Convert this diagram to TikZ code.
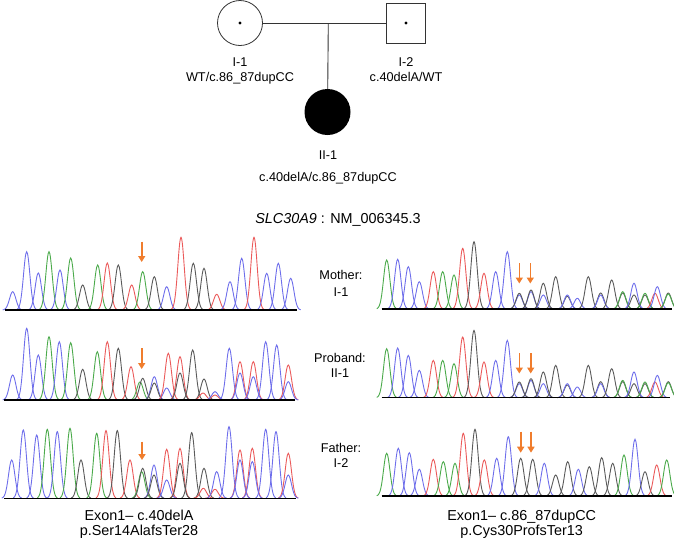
\documentclass[tikz,border=0pt]{standalone}
\usepackage{fontspec}
\setmainfont{Liberation Sans}
\usetikzlibrary{arrows.meta}
\definecolor{cB}{RGB}{110,110,235}
\definecolor{cG}{RGB}{75,170,75}
\definecolor{cR}{RGB}{235,90,90}
\definecolor{cK}{RGB}{90,90,90}
\definecolor{cO}{RGB}{240,125,45}
\newcommand\pk[4]{\draw[pktrace,#4] plot[domain=#1-10:#1+10,samples=25,smooth] (\x,{#2-#3*exp(-(((\x-#1)/4.5)^2))});}
\newcommand\panel[2]{\foreach \pc/\ph/\pcol in #2 {\pk{\pc}{#1}{\ph}{\pcol}}}
\newcommand\rightpeaks{386.7/49/cG, 397.7/49.7/cB, 408.3/42.3/cB, 419.3/27.3/cB, 433.3/37.3/cR, 442.7/37.3/cG, 454/34/cG, 462.7/60.7/cR, 474/67.3/cK, 484/35.7/cR, 495.7/37.3/cB, 507.3/57.3/cB, 519.3/14/cB, 519.3/15.7/cK, 531/17.3/cB, 531/19/cK, 543.3/14/cB, 543.3/25.7/cK, 555.7/32.3/cK, 567.3/12.7/cK, 567.3/14/cB, 577.3/10.7/cB, 588.3/32.3/cK, 600.7/16/cK, 600.7/14/cB, 611.7/29/cK, 622.7/16/cK, 622.7/17.3/cG, 634/14/cK, 634/25.7/cB, 645/14/cK, 645/15.7/cG, 655/15.7/cR, 657.3/22.3/cB, 668.3/16/cK, 668.3/15/cG}
\begin{document}
\begin{tikzpicture}[x=1pt,y=-1pt,
  pktrace/.style={line width=0.9pt},
  base/.style={line width=1.4pt,black},
  mut/.style={cO,line width=1.6pt,-{Triangle[width=7pt,length=6pt]}},
  lab/.style={font=\fontsize{12.7}{15}\selectfont,inner sep=0,anchor=base},
  big/.style={font=\fontsize{14.4}{17}\selectfont,inner sep=0,anchor=base},
  pline/.style={line width=0.9pt,black!80}]
\useasboundingbox (0,0) rectangle (674,539);
% pedigree
\node[circle,draw=black!80,line width=0.8pt,minimum size=45pt,inner sep=0] (I1) at (240,23) {};
\node[rectangle,draw=black!80,line width=0.8pt,minimum width=39pt,minimum height=40pt,inner sep=0] (I2) at (406,23) {};
\node[circle,fill=black,minimum size=46pt,inner sep=0] (II1) at (327.5,112) {};
\fill (I1.center) circle (1.7);
\fill (I2.center) circle (1.7);
\draw[pline] (I1) -- (I2);
\coordinate (m) at (328.3,23);
\draw[pline] (m) -- (II1);
\node[lab] (tI1) at (240,66.3) {I-1};
\node[lab] (gI1) at (240,81.3) {WT/c.86\_87dupCC};
\node[lab] (tI2) at (406,66.3) {I-2};
\node[lab] (gI2) at (406,81.5) {c.40delA/WT};
\node[lab] (tII1) at (328,159) {II-1};
\node[lab] (gII1) at (328,181.3) {c.40delA/c.86\_87dupCC};
\node[big] (title) at (338,223) {\textit{SLC30A9} : NM\_006345.3};
% row labels
\node[lab] (m1) at (341,279.6) {Mother:};
\node[lab] (m2) at (341,296.3) {I-1};
\node[lab] (p1) at (340,362.9) {Proband:};
\node[lab] (p2) at (340,377.9) {II-1};
\node[lab] (f1) at (341,452.9) {Father:};
\node[lab] (f2) at (341,467.9) {I-2};
% left chromatograms
\panel{310}{{12.7/18.3/cB, 26.7/58.3/cB, 38.3/37/cB, 49/58.3/cG, 60/40/cB, 70.7/52/cG, 82.7/25/cK, 97.7/45/cG, 107.3/47/cR, 118.3/45/cK, 131.7/25/cR, 142.7/38.3/cG, 154.3/33.3/cK, 166.7/23.3/cB, 181/72.7/cR, 193.3/46.7/cK, 204/41.7/cK, 216.7/15.7/cR, 230/28.3/cB, 241.7/51.7/cB, 254/72.7/cR, 266.7/36.7/cB, 278.3/46.7/cB, 290.7/31.7/cB}}
\draw[base] (5,310) -- (297,310);
\panel{400}{{12.7/25/cB, 26.7/71.7/cB, 38.3/45/cB, 49/63.3/cG, 59.3/58.3/cB, 70.7/57.3/cG, 82.7/30.7/cK, 97.3/48.3/cG, 107.3/58.3/cR, 118.3/51.7/cK, 131/33.3/cR, 140/18/cG, 142.7/21.7/cK, 154.3/23.3/cB, 154.3/17/cK, 166.7/12/cB, 168.3/46.7/cR, 180/43.3/cR, 180/27/cK, 192.7/50/cK, 204/21/cK, 203/7/cR, 215/5/cR, 215/8.3/cB, 229.3/51.7/cB, 240/38.3/cR, 240/27/cB, 253.3/38.3/cR, 253.3/23.3/cB, 265.7/58.3/cB, 276.7/55/cB, 288.3/35/cR, 288.3/18.3/cB}}
\draw[base] (4,400) -- (295,400);
\panel{498.3}{{11.7/38.3/cB, 23.3/68.3/cB, 36.7/63.3/cB, 47.3/69/cG, 57.3/66.7/cB, 70/70/cG, 81/38.3/cK, 96.7/65/cG, 106/67.7/cR, 117.3/67.7/cK, 130/38.3/cR, 141.7/26.7/cG, 142.7/30/cK, 154/33.3/cB, 154/23.3/cK, 166.7/49/cR, 166.7/18.3/cB, 180/50/cR, 180/35/cK, 191.7/65.7/cK, 204/30/cK, 203.3/10/cR, 215/9/cR, 216.7/26.7/cB, 229/71.7/cB, 240/48.3/cR, 240/38.3/cB, 252.3/50/cR, 252.3/36.7/cB, 265.7/69/cB, 276/66.7/cB, 288.3/45/cR, 288.3/23.3/cB}}
\draw[base] (4,498.3) -- (296,498.3);
% right chromatograms
\panel{309}{\rightpeaks}
\draw[base] (381.7,309) -- (671.7,309);
\panel{397.7}{\rightpeaks}
\draw[base] (381.7,397.7) -- (670,397.7);
\panel{496}{{386.7/42.7/cG, 398.3/47.7/cB, 409.3/43.3/cB, 419.3/26.7/cB, 433.3/36.7/cR, 443.3/34.3/cG, 455/32.7/cG, 463.3/62.7/cR, 475/66.7/cK, 484.3/36/cR, 496.7/37.7/cB, 508.3/59.3/cB, 520.7/37.7/cK, 532.7/36.7/cK, 544.3/32.7/cB, 555.7/21/cK, 567.7/34.3/cK, 578.3/26.7/cB, 589.3/29.3/cK, 601.7/38.3/cK, 612.7/32.7/cK, 624/41/cG, 635/56.7/cB, 645/24.3/cK, 656.7/31/cR, 666.7/36/cG}}
\draw[base] (381.7,496) -- (671.7,496);
% mutation arrows
\coordinate (a1s) at (141.7,241.7); \coordinate (a1e) at (141.7,262);
\coordinate (a2s) at (141.7,348.3); \coordinate (a2e) at (141.7,369);
\coordinate (a3s) at (142,441.7); \coordinate (a3e) at (142,460);
\draw[mut] (a1s) -- (a1e);
\draw[mut] (a2s) -- (a2e);
\draw[mut] (a3s) -- (a3e);
\coordinate (b1s) at (519.3,263.3); \coordinate (b1e) at (519.3,283.5);
\coordinate (b2s) at (530.3,263.3); \coordinate (b2e) at (530.3,283.5);
\coordinate (b3s) at (519.3,353.3); \coordinate (b3e) at (519.3,373.5);
\coordinate (b4s) at (530.7,353.3); \coordinate (b4e) at (530.7,373.5);
\coordinate (b5s) at (520.7,431.7); \coordinate (b5e) at (520.7,452.7);
\coordinate (b6s) at (531,431.7); \coordinate (b6e) at (531,452.7);
\foreach \s/\e in {b1s/b1e,b2s/b2e,b3s/b3e,b4s/b4e,b5s/b5e,b6s/b6e}{\draw[mut] (\s) -- (\e);}
% bottom captions
\node[big] (cl1) at (139,520.5) {Exon1– c.40delA};
\node[big] (cl2) at (139,535) {p.Ser14AlafsTer28};
\node[big] (cr1) at (521.7,520.5) {Exon1– c.86\_87dupCC};
\node[big] (cr2) at (521.7,535) {p.Cys30ProfsTer13};
\end{tikzpicture}
\end{document}
